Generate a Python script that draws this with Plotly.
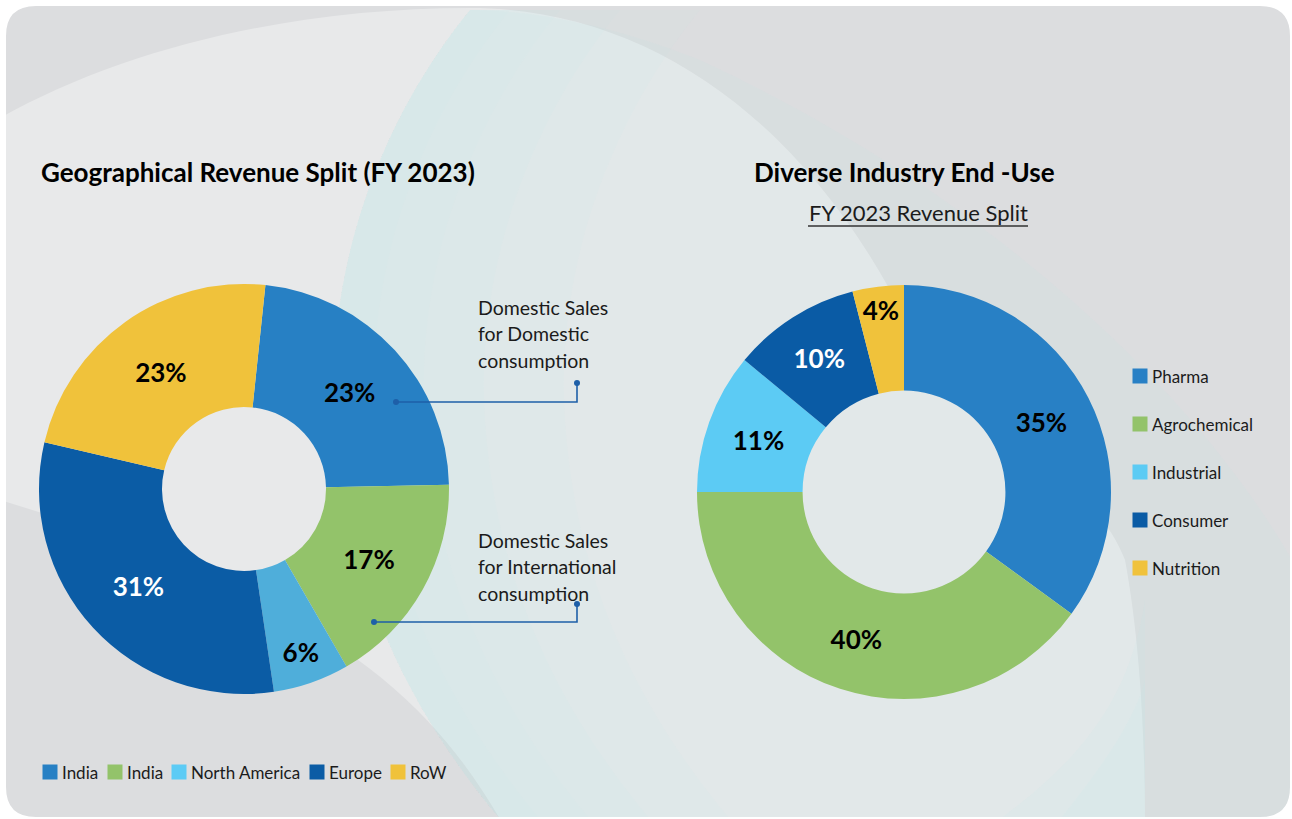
import plotly.graph_objects as go

W, H = 1292, 819
FONT = "Lato"

# left donut: geographical split (FY 2023)
geo_labels = ["India", "India", "North America", "Europe", "RoW"]
geo_values = [23, 17, 6, 31, 23]
geo_colors = ["#2780C4", "#93C36A", "#4FAEDA", "#0B5CA5", "#F0C23B"]
geo_key_colors = ["#2780C4", "#93C36A", "#5CCBF5", "#0B5CA5", "#F0C23B"]
geo_text_colors = ["black", "black", "black", "white", "black"]

# right donut: industry end-use
ind_labels = ["Pharma", "Agrochemical", "Industrial", "Consumer", "Nutrition"]
ind_values = [35, 40, 11, 10, 4]
ind_colors = ["#2880C5", "#93C36A", "#5CCBF4", "#0A5BA5", "#F0C23B"]
ind_text_colors = ["black", "black", "black", "white", "black"]

titles = ["Geographical Revenue Split (FY 2023)", "Diverse Industry End -Use"]
subtitle = "FY 2023 Revenue Split"
notes = ["Domestic Sales\nfor Domestic\nconsumption",
         "Domestic Sales\nfor International\nconsumption"]

PCT = 26


def dom(x0, x1, y0, y1):
    # pixel box -> paper domain
    return dict(x=[x0 / W, x1 / W], y=[1 - y1 / H, 1 - y0 / H])


fig = go.Figure()

fig.add_trace(go.Pie(
    values=geo_values, customdata=geo_labels,
    hovertemplate="%{customdata}: %{value}%<extra></extra>",
    texttemplate="%{value}%", textposition="inside",
    insidetextorientation="horizontal",
    textfont=dict(family=FONT, size=PCT, color=geo_text_colors, weight="bold"),
    marker=dict(colors=geo_colors, line=dict(width=0)),
    hole=0.4, sort=False, direction="clockwise", rotation=6,
    domain=dom(39, 449, 284, 694), showlegend=False,
))

fig.add_trace(go.Pie(
    values=ind_values, customdata=ind_labels,
    hovertemplate="%{customdata}: %{value}%<extra></extra>",
    texttemplate="%{value}%", textposition="inside",
    insidetextorientation="horizontal",
    textfont=dict(family=FONT, size=PCT, color=ind_text_colors, weight="bold"),
    marker=dict(colors=ind_colors, line=dict(width=0)),
    hole=0.49, sort=False, direction="clockwise", rotation=0,
    domain=dom(697, 1111, 285, 699), showlegend=False,
))

# custom keys
geo_key_x = [50, 115, 179, 317, 398]
fig.add_trace(go.Scatter(
    x=geo_key_x, y=[772] * len(geo_labels), mode="markers",
    marker=dict(symbol="square", size=15, color=geo_key_colors),
    hoverinfo="skip", showlegend=False,
))
ind_key_y = [376 + 48 * i for i in range(len(ind_labels))]
fig.add_trace(go.Scatter(
    x=[1140] * len(ind_labels), y=ind_key_y, mode="markers",
    marker=dict(symbol="square", size=15, color=ind_colors),
    hoverinfo="skip", showlegend=False,
))

ann = []
for x, lab in zip(geo_key_x, geo_labels):
    ann.append(dict(x=x + 10, y=772, text=lab, xanchor="left",
                    font=dict(size=17, color="#1b1b1b")))
for y, lab in zip(ind_key_y, ind_labels):
    ann.append(dict(x=1150, y=y, text=lab, xanchor="left",
                    font=dict(size=17, color="#1b1b1b")))

ann.append(dict(x=39, y=172, text=f"<b>{titles[0]}</b>", xanchor="left",
                font=dict(size=26, color="black")))
ann.append(dict(x=904, y=172, text=f"<b>{titles[1]}</b>", xanchor="center",
                font=dict(size=26, color="black")))
ann.append(dict(x=918, y=212, text=subtitle, xanchor="center",
                font=dict(size=22, color="#1b1b1b")))

for y0, note in zip([307, 540], notes):
    for i, line in enumerate(note.split("\n")):
        ann.append(dict(x=476, y=y0 + 26.5 * i, text=line, xanchor="left",
                        font=dict(size=19.5, color="#1b1b1b")))

for a in ann:
    a.update(xref="x", yref="y", yanchor="middle", showarrow=False)
    a["font"]["family"] = FONT


def band(dx):
    # strip of the pale arc, left edge fixed, right edge shifted by dx
    return ("M470,10 C380,120 325,270 335,420 C345,570 400,700 500,819 "
            f"L{500 + dx},819 C{400 + dx},700 {345 + dx},570 {335 + dx},420 "
            f"C{325 + dx},270 {380 + dx},120 {470 + dx},10 Z")


# background decoration (pixel coordinates)
shapes = [
    dict(type="rect", x0=0, x1=W, y0=0, y1=H, fillcolor="#DCDDDF", line_width=0),
    dict(type="path",
         path="M0,118 C130,45 300,8 470,8 C640,8 790,110 890,290 "
              "C960,410 1090,470 1125,560 C1140,640 1145,740 1145,819 "
              "L500,819 C430,700 330,600 0,500 Z",
         fillcolor="#E8E9EA", line_width=0),
    dict(type="path",
         path="M470,10 C380,120 325,270 335,420 C345,570 400,700 500,819 "
              "L1292,819 L1292,560 C1200,400 1000,200 700,60 C600,20 520,10 470,10 Z",
         fillcolor="rgba(190,232,234,0.12)", line_width=0),
]
for dx in [40, 90, 150, 230]:
    shapes.append(dict(type="path", path=band(dx),
                       fillcolor="rgba(190,232,234,0.06)", line_width=0))
for p in ["M1000,819 C1080,760 1130,700 1145,600 L1145,819 Z",
          "M1060,819 C1100,770 1135,720 1145,680 L1145,819 Z"]:
    shapes.append(dict(type="path", path=p,
                       fillcolor="rgba(190,232,234,0.1)", line_width=0))
shapes += [
    dict(type="line", x0=808, x1=1028, y0=226, y1=226,
         line=dict(color="#333333", width=1.3)),
    dict(type="path", fillrule="evenodd",
         path="M0,0 H1292 V819 H0 Z "
              "M36,6 H1260 Q1290,6 1290,36 V787 Q1290,817 1260,817 "
              "H36 Q6,817 6,787 V36 Q6,6 36,6 Z",
         fillcolor="white", line_width=0),
]
for s in shapes:
    s.update(layer="below")

# callout leader lines, drawn above the donut
leaders = [([396, 577, 577], [402, 402, 383]), ([374, 577, 577], [622, 622, 604])]
for lx, ly in leaders:
    pts = " L".join(f"{x},{y}" for x, y in zip(lx, ly))
    shapes.append(dict(type="path", path="M" + pts, layer="above",
                       line=dict(color="#1E5FA8", width=1.6)))
    for x, y in [(lx[0], ly[0]), (lx[-1], ly[-1])]:
        shapes.append(dict(type="circle", x0=x - 3, x1=x + 3, y0=y - 3, y1=y + 3,
                           layer="above", fillcolor="#1E5FA8", line_width=0))

for s in shapes:
    s.update(xref="x", yref="y")

fig.update_layout(
    width=W, height=H,
    margin=dict(l=0, r=0, t=0, b=0),
    paper_bgcolor="white", plot_bgcolor="rgba(0,0,0,0)",
    xaxis=dict(range=[0, W], visible=False, fixedrange=True),
    yaxis=dict(range=[H, 0], visible=False, fixedrange=True),
    uniformtext=dict(minsize=PCT, mode="show"),
    font=dict(family=FONT),
    shapes=shapes, annotations=ann,
)

fig.write_html("out.html", config={"displayModeBar": False},
               post_script="document.body.style.margin='0';"
                           "document.body.style.overflow='hidden';")
